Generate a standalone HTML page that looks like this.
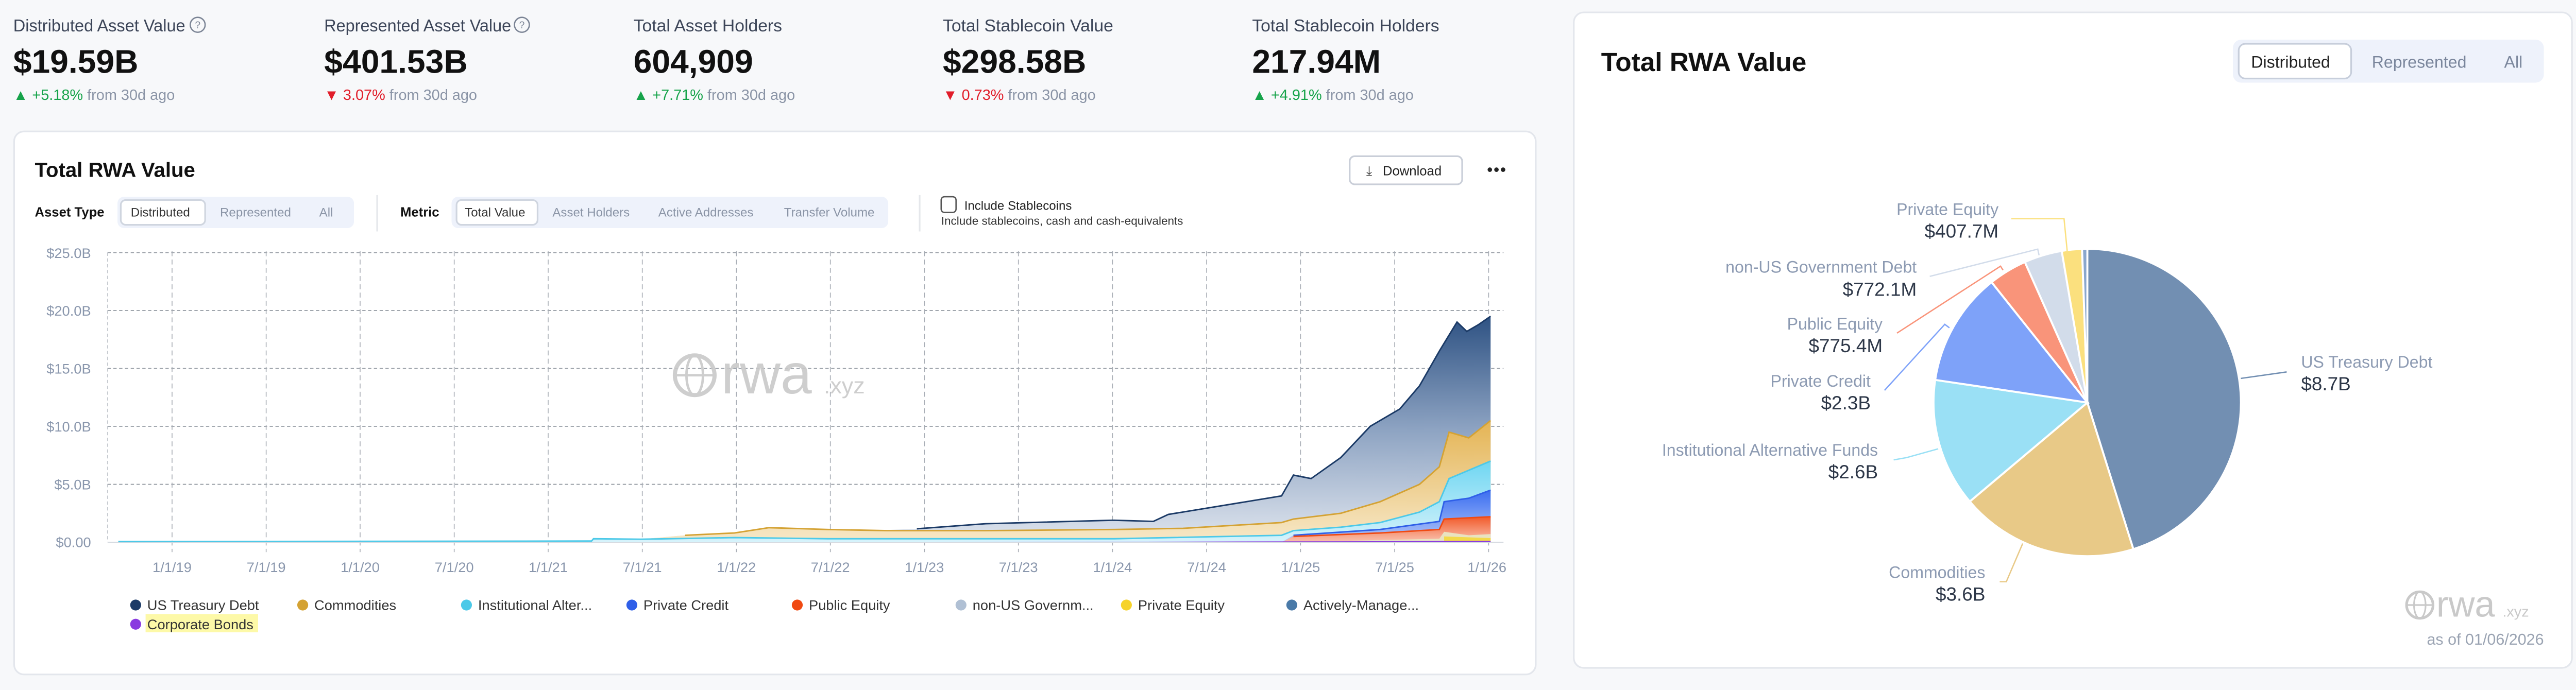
<!DOCTYPE html>
<html><head><meta charset="utf-8"><style>
html,body{margin:0;padding:0;background:#f7f8fa;}
svg{display:block;font-family:"Liberation Sans",sans-serif;}
</style></head><body>
<svg width="5034" height="1340" viewBox="0 0 1568 417.4" xmlns="http://www.w3.org/2000/svg">
<defs>
<linearGradient id="gT" x1="0" y1="0" x2="0" y2="1"><stop offset="0" stop-color="#2e5283"/><stop offset="0.5" stop-color="#8da3c2"/><stop offset="1" stop-color="#dfe5ee"/></linearGradient>
<linearGradient id="gC" x1="0" y1="0" x2="0" y2="1"><stop offset="0" stop-color="#e4b454"/><stop offset="1" stop-color="#f7e8c8"/></linearGradient>
<linearGradient id="gI" x1="0" y1="0" x2="0" y2="1"><stop offset="0" stop-color="#6fd6f2"/><stop offset="1" stop-color="#d7f3fb"/></linearGradient>
<linearGradient id="gP" x1="0" y1="0" x2="0" y2="1"><stop offset="0" stop-color="#3b6ef0"/><stop offset="1" stop-color="#b3c8fa"/></linearGradient>
<linearGradient id="gR" x1="0" y1="0" x2="0" y2="1"><stop offset="0" stop-color="#f25a2a"/><stop offset="1" stop-color="#f9c2b0"/></linearGradient>
</defs>
<rect width="1568" height="417.4" fill="#f7f8fa"/>

<!-- top stats -->
<g font-size="10.5" fill="#3c4558">
<text x="8" y="19" textLength="104" lengthAdjust="spacingAndGlyphs">Distributed Asset Value</text>
<text x="196" y="19" textLength="113" lengthAdjust="spacingAndGlyphs">Represented Asset Value</text>
<text x="383" y="19">Total Asset Holders</text>
<text x="570" y="19">Total Stablecoin Value</text>
<text x="757" y="19">Total Stablecoin Holders</text>
</g>
<g fill="none" stroke="#7a8394" stroke-width="0.8"><circle cx="119.5" cy="15" r="4.5"/><circle cx="315.5" cy="15" r="4.5"/></g>
<g font-size="6" fill="#7a8394" text-anchor="middle"><text x="119.5" y="17.2">?</text><text x="315.5" y="17.2">?</text></g>
<g font-size="20" font-weight="600" fill="#111">
<text x="8" y="44">$19.59B</text><text x="196" y="44">$401.53B</text><text x="383" y="44">604,909</text><text x="570" y="44">$298.58B</text><text x="757" y="44">217.94M</text>
</g>
<g font-size="9">
<text x="8" y="60.5"><tspan fill="#16a34a">▲ +5.18%</tspan><tspan fill="#8a94a6"> from 30d ago</tspan></text>
<text x="196" y="60.5"><tspan fill="#e11d2a">▼ 3.07%</tspan><tspan fill="#8a94a6"> from 30d ago</tspan></text>
<text x="383" y="60.5"><tspan fill="#16a34a">▲ +7.71%</tspan><tspan fill="#8a94a6"> from 30d ago</tspan></text>
<text x="570" y="60.5"><tspan fill="#e11d2a">▼ 0.73%</tspan><tspan fill="#8a94a6"> from 30d ago</tspan></text>
<text x="757" y="60.5"><tspan fill="#16a34a">▲ +4.91%</tspan><tspan fill="#8a94a6"> from 30d ago</tspan></text>
</g>

<!-- left card -->
<rect x="8.5" y="79.5" width="920" height="328.5" rx="6" fill="#fff" stroke="#e3e6ec"/>
<text x="21" y="107" font-size="12.5" font-weight="600" fill="#111">Total RWA Value</text>
<rect x="816" y="94.5" width="68" height="17" rx="3" fill="#fff" stroke="#c9ced8"/>
<text x="826" y="106" font-size="8" fill="#333">⤓</text>
<text x="836" y="106" font-size="8" fill="#222">Download</text>
<text x="899" y="106" font-size="10" fill="#222" letter-spacing="0.5">•••</text>

<text x="21" y="131" font-size="8" font-weight="600" fill="#111">Asset Type</text>
<rect x="71" y="119" width="143" height="19" rx="4" fill="#eef2fb"/>
<rect x="73" y="121" width="51" height="15" rx="3" fill="#fff" stroke="#cfd5df"/>
<g font-size="7.5" fill="#8a94a6"><text x="79" y="131" fill="#333">Distributed</text><text x="133" y="131">Represented</text><text x="193" y="131">All</text></g>
<line x1="228" y1="118" x2="228" y2="140" stroke="#e5e7eb"/>
<text x="242" y="131" font-size="8" font-weight="600" fill="#111">Metric</text>
<rect x="273" y="119" width="264" height="19" rx="4" fill="#eef2fb"/>
<rect x="276" y="121" width="49" height="15" rx="3" fill="#fff" stroke="#cfd5df"/>
<g font-size="7.5" fill="#8a94a6"><text x="281" y="131" fill="#333">Total Value</text><text x="334" y="131">Asset Holders</text><text x="398" y="131">Active Addresses</text><text x="474" y="131">Transfer Volume</text></g>
<line x1="556" y1="118" x2="556" y2="140" stroke="#e5e7eb"/>
<rect x="569" y="119" width="9" height="9.5" rx="2" fill="#fff" stroke="#555" stroke-width="0.8"/>
<text x="583" y="127" font-size="7.5" fill="#222">Include Stablecoins</text>
<text x="569" y="136" font-size="7" fill="#333">Include stablecoins, cash and cash-equivalents</text>

<!-- grid -->
<g stroke="#9aa0a8" stroke-width="0.6" stroke-dasharray="2,1.5">
<line x1="65" y1="152.8" x2="909" y2="152.8"/><line x1="65" y1="187.8" x2="909" y2="187.8"/><line x1="65" y1="222.9" x2="909" y2="222.9"/><line x1="65" y1="257.9" x2="909" y2="257.9"/><line x1="65" y1="293" x2="909" y2="293"/>
</g>
<line x1="65" y1="152.8" x2="65" y2="328" stroke="#c4c8ce" stroke-width="0.5" stroke-dasharray="2,1.5"/>
<g stroke="#a8adb5" stroke-width="0.5" stroke-dasharray="3,2">
<line x1="104" y1="152" x2="104" y2="334"/><line x1="160.9" y1="152" x2="160.9" y2="334"/><line x1="217.7" y1="152" x2="217.7" y2="334"/><line x1="274.6" y1="152" x2="274.6" y2="334"/><line x1="331.4" y1="152" x2="331.4" y2="334"/><line x1="388.3" y1="152" x2="388.3" y2="334"/><line x1="445.2" y1="152" x2="445.2" y2="334"/><line x1="502" y1="152" x2="502" y2="334"/><line x1="558.9" y1="152" x2="558.9" y2="334"/><line x1="615.7" y1="152" x2="615.7" y2="334"/><line x1="672.6" y1="152" x2="672.6" y2="334"/><line x1="729.5" y1="152" x2="729.5" y2="334"/><line x1="786.3" y1="152" x2="786.3" y2="334"/><line x1="843.2" y1="152" x2="843.2" y2="334"/><line x1="900" y1="152" x2="900" y2="334"/>
</g>
<line x1="65" y1="328" x2="909" y2="328" stroke="#d5d9df" stroke-width="0.6"/>
<g font-size="8.5" fill="#8a97ad" text-anchor="end">
<text x="55" y="156">$25.0B</text><text x="55" y="191">$20.0B</text><text x="55" y="226">$15.0B</text><text x="55" y="261">$10.0B</text><text x="55" y="296">$5.0B</text><text x="55" y="331">$0.00</text>
</g>
<g font-size="8.5" fill="#8a97ad" text-anchor="middle">
<text x="104" y="346">1/1/19</text><text x="160.9" y="346">7/1/19</text><text x="217.7" y="346">1/1/20</text><text x="274.6" y="346">7/1/20</text><text x="331.4" y="346">1/1/21</text><text x="388.3" y="346">7/1/21</text><text x="445.2" y="346">1/1/22</text><text x="502" y="346">7/1/22</text><text x="558.9" y="346">1/1/23</text><text x="615.7" y="346">7/1/23</text><text x="672.6" y="346">1/1/24</text><text x="729.5" y="346">7/1/24</text><text x="786.3" y="346">1/1/25</text><text x="843.2" y="346">7/1/25</text><text x="899" y="346">1/1/26</text>
</g>

<!-- watermark -->
<g opacity="0.9">
<circle cx="420" cy="227" r="12" fill="none" stroke="#c9c9c9" stroke-width="2.5"/>
<ellipse cx="420" cy="227" rx="5" ry="12" fill="none" stroke="#c9c9c9" stroke-width="1.5"/>
<line x1="408" y1="227" x2="432" y2="227" stroke="#c9c9c9" stroke-width="1.5"/>
<text x="436" y="238" font-size="34" fill="#c9c9c9">rwa</text>
<text x="498" y="238" font-size="14" fill="#c9c9c9">.xyz</text>
</g>

<!-- areas -->
<path d="M71.5,327.6 L357.6,327.3 L358.8,325.9 L387.4,326.2 L414.2,323.8 L444,322.4 L464.9,319.2 L500.6,320.3 L536.4,320.6 L554.3,319.9 L596,316.8 L673.5,314.7 L697.3,315.4 L706.3,311.2 L774.8,300 L782,287.4 L792.7,289.5 L810.6,276.8 L828.4,257.9 L846.3,247.4 L858.2,233.4 L870.2,212.4 L880.9,194.8 L886.8,200.5 L894,196.3 L901.2,191.3 L901.2,328 L71.5,328 Z" fill="url(#gT)"/>
<path d="M71.5,327.6 L357.6,327.3 L358.8,325.9 L387.4,326.2 L414.2,323.8 L444,322.4 L464.9,319.2 L500.6,320.3 L536.4,321 L596,321 L673.5,320.3 L715.2,319.6 L774.8,316.1 L782,314 L810.6,310.5 L834.4,303.5 L858.2,293 L870.2,282.4 L876.1,261.4 L888,264.9 L901.2,254.4 L901.2,328 L71.5,328 Z" fill="url(#gC)"/>
<path d="M71.5,327.6 L357.6,327.3 L358.8,325.9 L387.4,326.2 L444,325.2 L500.6,325.9 L673.5,325.9 L774.8,323.8 L782,321 L810.6,318.9 L834.4,316.1 L858.2,309.8 L870.2,303.5 L876.1,289.5 L901.2,278.9 L901.2,328 L71.5,328 Z" fill="url(#gI)"/>
<path d="M774.8,328 L782,323.8 L834.4,320.3 L870.2,315.4 L873.1,303.5 L888,301.4 L901.2,296.5 L901.2,328 Z" fill="url(#gP)"/>
<path d="M774.8,328 L782,324.5 L834.4,322.4 L870.2,320.3 L873.1,314 L901.2,312.6 L901.2,328 Z" fill="url(#gR)"/>
<path d="M774.8,328 L870.2,325.9 L873.1,321.7 L888,323.8 L901.2,323.1 L901.2,328 Z" fill="#e9e3c0"/>
<path d="M873.1,328 L873.1,324.5 L901.2,325.5 L901.2,328 Z" fill="#f3d94a"/>
<path d="M556,328 L901.2,327.2 L901.2,328 Z" fill="#8a3be0"/>
<g fill="none" stroke-width="0.9">
<path d="M554.3,319.9 L596,316.8 L673.5,314.7 L697.3,315.4 L706.3,311.2 L774.8,300 L782,287.4 L792.7,289.5 L810.6,276.8 L828.4,257.9 L846.3,247.4 L858.2,233.4 L870.2,212.4 L880.9,194.8 L886.8,200.5 L894,196.3 L901.2,191.3" stroke="#1b3a66"/>
<path d="M414.2,323.8 L444,322.4 L464.9,319.2 L500.6,320.3 L536.4,321 L596,321 L673.5,320.3 L715.2,319.6 L774.8,316.1 L782,314 L810.6,310.5 L834.4,303.5 L858.2,293 L870.2,282.4 L876.1,261.4 L888,264.9 L901.2,254.4" stroke="#d4a233"/>
<path d="M71.5,327.6 L357.6,327.3 L358.8,325.9 L387.4,326.2 L444,325.2 L500.6,325.9 L673.5,325.9 L774.8,323.8 L782,321 L810.6,318.9 L834.4,316.1 L858.2,309.8 L870.2,303.5 L876.1,289.5 L901.2,278.9" stroke="#4cc9e8"/>
<path d="M782,323.8 L834.4,320.3 L870.2,315.4 L873.1,303.5 L888,301.4 L901.2,296.5" stroke="#2f5fe8"/>
<path d="M782,324.5 L834.4,322.4 L870.2,320.3 L873.1,314 L901.2,312.6" stroke="#f04a12"/>
</g>

<!-- legend -->
<g font-size="8.5" fill="#333">
<circle cx="82" cy="366" r="3.3" fill="#1b3a66"/><text x="89" y="369">US Treasury Debt</text>
<circle cx="183" cy="366" r="3.3" fill="#d4a233"/><text x="190" y="369">Commodities</text>
<circle cx="282" cy="366" r="3.3" fill="#4cc9e8"/><text x="289" y="369">Institutional Alter...</text>
<circle cx="382" cy="366" r="3.3" fill="#2f5fe8"/><text x="389" y="369">Private Credit</text>
<circle cx="482" cy="366" r="3.3" fill="#f04a12"/><text x="489" y="369">Public Equity</text>
<circle cx="581" cy="366" r="3.3" fill="#b0c0d4"/><text x="588" y="369">non-US Governm...</text>
<circle cx="681" cy="366" r="3.3" fill="#f6d32a"/><text x="688" y="369">Private Equity</text>
<circle cx="781" cy="366" r="3.3" fill="#4a7aa8"/><text x="788" y="369">Actively-Manage...</text>
<rect x="88" y="371.5" width="68" height="11" fill="#fdf9a8"/>
<circle cx="82" cy="377.6" r="3.3" fill="#8a3be0"/><text x="89" y="380.6">Corporate Bonds</text>
</g>

<!-- right card -->
<rect x="951.5" y="7.5" width="603.5" height="396.5" rx="6" fill="#fff" stroke="#e3e6ec"/>
<text x="968" y="43" font-size="16" font-weight="600" fill="#111">Total RWA Value</text>
<rect x="1350" y="24" width="188" height="26" rx="5" fill="#eef2fb"/>
<rect x="1353.5" y="26.5" width="68" height="21" rx="4" fill="#fff" stroke="#c7cedb"/>
<g font-size="10" fill="#7a869c"><text x="1361" y="41" fill="#222">Distributed</text><text x="1434" y="41">Represented</text><text x="1514" y="41">All</text></g>

<!-- pie -->
<g stroke="#fff" stroke-width="1.2">
<path d="M1262,243.5 L1262,150.5 A93,93 0 0 1 1289.8,332.2 Z" fill="#728fb2"/>
<path d="M1262,243.5 L1289.8,332.2 A93,93 0 0 1 1190.9,303.4 Z" fill="#e8c987"/>
<path d="M1262,243.5 L1190.9,303.4 A93,93 0 0 1 1170,229.8 Z" fill="#9ae0f5"/>
<path d="M1262,243.5 L1170,229.8 A93,93 0 0 1 1204.1,170.7 Z" fill="#7ea2f9"/>
<path d="M1262,243.5 L1204.1,170.7 A93,93 0 0 1 1224.2,158.5 Z" fill="#f9947a"/>
<path d="M1262,243.5 L1224.2,158.5 A93,93 0 0 1 1246.5,151.8 Z" fill="#d2dcea"/>
<path d="M1262,243.5 L1246.5,151.8 A93,93 0 0 1 1258.8,150.6 Z" fill="#fbe07e"/>
<path d="M1262,243.5 L1258.8,150.6 A93,93 0 0 1 1262,150.5 Z" fill="#8aa7cc"/>
</g>
<g fill="none" stroke-width="0.8">
<polyline points="1216,132.3 1247.9,132.3 1249.8,151.7" stroke="#fbe07e"/>
<polyline points="1166.7,167.2 1232,150.7 1232.8,154.4" stroke="#d2dcea"/>
<polyline points="1146.9,201.5 1209.5,161 1211,163.4" stroke="#f9947a"/>
<polyline points="1139.4,236.1 1175.8,196.2 1178.6,198.3" stroke="#7ea2f9"/>
<polyline points="1144.9,278.2 1152.8,276.8 1171.8,271.5" stroke="#9ae0f5"/>
<polyline points="1209,351.9 1213,351.9 1222.9,328.8" stroke="#e8c987"/>
<polyline points="1382.5,225 1354.8,228.9" stroke="#728fb2"/>
</g>
<g font-size="10" fill="#8c9ab2" text-anchor="end">
<text x="1208.3" y="130">Private Equity</text>
<text x="1158.8" y="165">non-US Government Debt</text>
<text x="1138.2" y="199.3">Public Equity</text>
<text x="1131" y="234">Private Credit</text>
<text x="1135.4" y="275.6">Institutional Alternative Funds</text>
<text x="1200.3" y="349.6">Commodities</text>
</g>
<g font-size="11.5" fill="#2d3748" text-anchor="end">
<text x="1208.3" y="143.8">$407.7M</text>
<text x="1158.8" y="178.9">$772.1M</text>
<text x="1138.2" y="213">$775.4M</text>
<text x="1131" y="247.6">$2.3B</text>
<text x="1135.4" y="289.4">$2.6B</text>
<text x="1200.3" y="363.4">$3.6B</text>
</g>
<text x="1391.2" y="222.4" font-size="10" fill="#8c9ab2">US Treasury Debt</text>
<text x="1391.2" y="236.1" font-size="11.5" fill="#2d3748">$8.7B</text>

<g>
<circle cx="1463" cy="366" r="8" fill="none" stroke="#c9c9c9" stroke-width="1.6"/>
<ellipse cx="1463" cy="366" rx="3.5" ry="8" fill="none" stroke="#c9c9c9" stroke-width="1"/>
<line x1="1455" y1="366" x2="1471" y2="366" stroke="#c9c9c9" stroke-width="1"/>
<text x="1473" y="373" font-size="22" fill="#c9c9c9">rwa</text>
<text x="1513" y="373" font-size="9" fill="#c9c9c9">.xyz</text>
</g>
<text x="1538" y="390" font-size="9.5" fill="#9aa3b2" text-anchor="end">as of 01/06/2026</text>
</svg>
</body></html>
